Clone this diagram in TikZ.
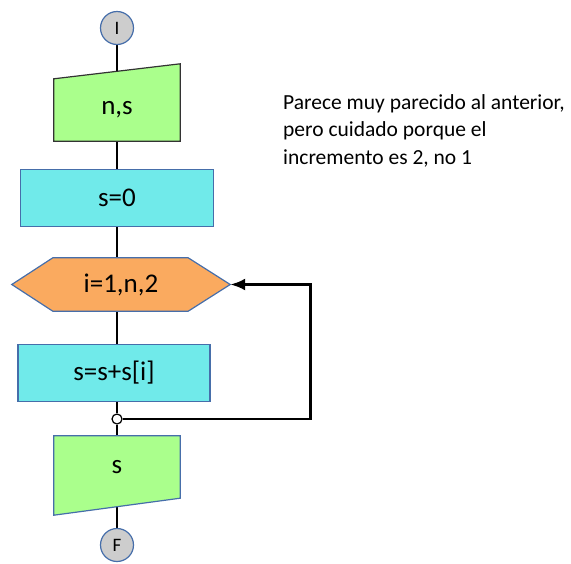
\documentclass[tikz,border=0pt]{standalone}
\usepackage{fontspec}
\setmainfont{Carlito}
\usepackage{xcolor}
\usetikzlibrary{positioning,arrows.meta,backgrounds}
\definecolor{ingreen}{RGB}{170,255,140}
\definecolor{boxcyan}{RGB}{112,234,234}
\definecolor{hexorange}{RGB}{250,170,95}
\definecolor{edgeblue}{RGB}{70,110,170}
\definecolor{termgray}{RGB}{205,205,205}
\tikzset{%
terminal/.style={circle,draw=edgeblue,fill=termgray,line width=1.2pt,minimum size=33pt,inner sep=0,font=\fontsize{19}{21}\selectfont},
iobox/.style={rectangle,minimum width=126pt,minimum height=62pt,inner sep=0,font=\fontsize{27}{30}\selectfont},
procbox/.style={rectangle,draw=edgeblue,fill=boxcyan,line width=1.2pt,minimum height=57pt,inner sep=0,font=\fontsize{27}{30}\selectfont},
loopbox/.style={rectangle,minimum width=218pt,minimum height=53pt,inner sep=0,font=\fontsize{27}{30}\selectfont},
joint/.style={circle,draw,fill=white,line width=1.2pt,minimum size=10pt,inner sep=0},
flow/.style={draw,line width=2.8pt},
note/.style={align=left,inner sep=0,font=\fontsize{21.5}{27.5}\selectfont}
}
\begin{document}
\begin{tikzpicture}[x=1pt,y=-1pt]
    \useasboundingbox (0,0) rectangle (571,563);

    \node[terminal] (start) at (117,28) {I};
    \node[iobox] (inp) at (117,110) {n,s};
    \node[procbox,minimum width=193pt] (s0) at (117,198) {s=0};
    \node[loopbox] (loop) at (121,284.5) {i=1,n,2};
    \node[procbox,minimum width=192pt] (body) at (114,373) {s=s+s[i]};
    \node[joint] (junc) at (117,419) {};
    \node[iobox] (outp) at (117,467) {s};
    \node[terminal] (finish) at (117,545) {F};

    \node[note,anchor=north west] (txt) at (283,94) {Parece muy parecido al anterior,\\pero cuidado porque el\\incremento es 2, no 1};

    \begin{scope}[on background layer]
    % connectors first, shapes over them
    \path[flow] (start) -- ([yshift=15pt]inp.north) -- (s0) -- (s0 |- loop) -- (junc |- body) -- (junc)
        -- (outp) -- ([yshift=-17pt]outp.south) -- (finish);
    \filldraw[fill=ingreen,draw=black!80,line width=1.2pt] (inp.south west) -- (inp.south east)
        -- ([yshift=15pt]inp.north east) -- (inp.north west) -- cycle;
    \filldraw[fill=ingreen,draw=edgeblue,line width=1.2pt] ([yshift=-17pt]outp.south west) -- (outp.south east)
        -- (outp.north east) -- (outp.north west) -- cycle;
    \filldraw[fill=hexorange,draw=edgeblue,line width=1.2pt] (loop.west) -- ([xshift=41pt]loop.north west)
        -- ([xshift=-42pt]loop.north east) -- (loop.east) -- ([xshift=-42pt]loop.south east)
        -- ([xshift=41pt]loop.south west) -- cycle;
    \end{scope}

    \path[flow,-{Latex[length=15pt,width=12pt]}] (junc.east) -| ([xshift=80pt]loop.east) -- (loop.east);

  \end{tikzpicture}
\end{document}
